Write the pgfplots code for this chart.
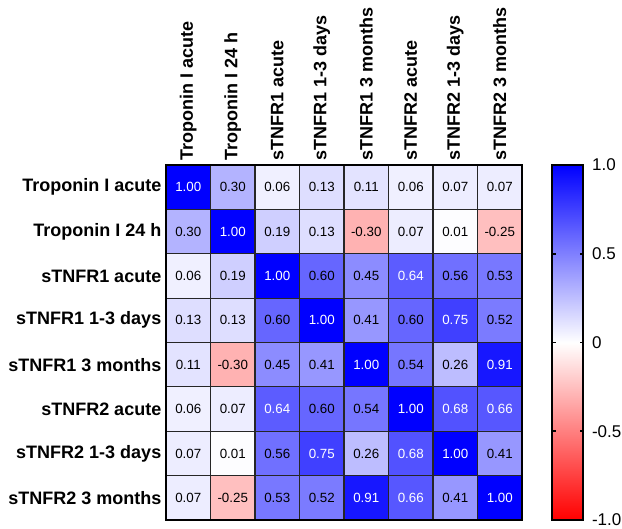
\documentclass[border=0pt]{standalone}
\usepackage{pgfplots}
\pgfplotsset{compat=1.18}
\usepackage{fontspec}
\setmainfont{Liberation Sans}
\colorlet{lab0}{black}
\colorlet{lab1}{white}
\begin{document}
\begin{tikzpicture}
\pgfplotstableread{
x y c w
0 0 1.00 1
1 0 0.30 0
2 0 0.06 0
3 0 0.13 0
4 0 0.11 0
5 0 0.06 0
6 0 0.07 0
7 0 0.07 0
0 1 0.30 0
1 1 1.00 1
2 1 0.19 0
3 1 0.13 0
4 1 -0.30 0
5 1 0.07 0
6 1 0.01 0
7 1 -0.25 0
0 2 0.06 0
1 2 0.19 0
2 2 1.00 1
3 2 0.60 0
4 2 0.45 0
5 2 0.64 1
6 2 0.56 0
7 2 0.53 0
0 3 0.13 0
1 3 0.13 0
2 3 0.60 0
3 3 1.00 1
4 3 0.41 0
5 3 0.60 0
6 3 0.75 1
7 3 0.52 0
0 4 0.11 0
1 4 -0.30 0
2 4 0.45 0
3 4 0.41 0
4 4 1.00 1
5 4 0.54 0
6 4 0.26 0
7 4 0.91 1
0 5 0.06 0
1 5 0.07 0
2 5 0.64 1
3 5 0.60 0
4 5 0.54 0
5 5 1.00 1
6 5 0.68 1
7 5 0.66 1
0 6 0.07 0
1 6 0.01 0
2 6 0.56 0
3 6 0.75 1
4 6 0.26 0
5 6 0.68 1
6 6 1.00 1
7 6 0.41 0
0 7 0.07 0
1 7 -0.25 0
2 7 0.53 0
3 7 0.52 0
4 7 0.91 1
5 7 0.66 1
6 7 0.41 0
7 7 1.00 1
}\corrtable
\begin{axis}[
  at={(124.5pt,-123.75pt)}, anchor=north west,
  scale only axis, width=267pt, height=266.25pt,
  xmin=-0.5, xmax=7.5, ymin=-0.5, ymax=7.5,
  y dir=reverse,
  axis on top,
  axis line style={black, line width=1.5pt},
  colormap={rwb}{rgb255(0cm)=(255,0,0); rgb255(1cm)=(255,255,255); rgb255(2cm)=(0,0,255)},
  point meta min=-1, point meta max=1,
  xtick={0,...,7}, ytick={0,...,7},
  xticklabels={Troponin I acute, Troponin I 24 h, sTNFR1 acute, sTNFR1 1-3 days, sTNFR1 3 months, sTNFR2 acute, sTNFR2 1-3 days, sTNFR2 3 months},
  yticklabels={Troponin I acute, Troponin I 24 h, sTNFR1 acute, sTNFR1 1-3 days, sTNFR1 3 months, sTNFR2 acute, sTNFR2 1-3 days, sTNFR2 3 months},
  xticklabel pos=upper,
  major tick length=0pt, minor tick length=0pt,
  xticklabel style={rotate=90, anchor=west, font=\fontsize{13.5}{16}\selectfont\bfseries},
  yticklabel style={font=\fontsize{13.5}{16}\selectfont\bfseries},
  minor xtick={0.5,1.5,...,6.5}, minor ytick={0.5,1.5,...,6.5},
  minor grid style={black!85, line width=0.8pt},
  xminorgrids, yminorgrids,
  colorbar,
  colorbar/width=23.25pt,
  colorbar style={
    at={(parent axis.north east)}, anchor=north west, xshift=14.25pt,
    ymin=-1, ymax=1,
    ytick={-1,-0.5,0,0.5,1},
    yticklabels={-1.0,-0.5,0,0.5,1.0},
    ytick pos=both, yticklabel pos=right,
    tick align=inside, major tick length=2.5pt,
    tick style={black, line width=1.2pt},
    axis line style={black, line width=1.5pt},
    yticklabel style={font=\fontsize{12.75}{15}\selectfont, xshift=3pt},
  },
]
\addplot[matrix plot*, mesh/cols=8, point meta=explicit] table[x=x, y=y, meta=c] {\corrtable};
\addplot[only marks, mark=none, point meta=explicit symbolic,
  visualization depends on={\thisrow{w} \as \wflag},
  nodes near coords={\pgfmathparse{\wflag>0.5}\color{lab\pgfmathresult}\pgfplotspointmeta},
  nodes near coords align={center},
  every node near coord/.append style={anchor=center, font=\fontsize{10}{12}\selectfont}]
  table[x=x, y=y, meta=c] {\corrtable};
\end{axis}
\pgfresetboundingbox
\path[use as bounding box] (0,0) rectangle (466.5pt,-396.75pt);
\end{tikzpicture}
\end{document}
